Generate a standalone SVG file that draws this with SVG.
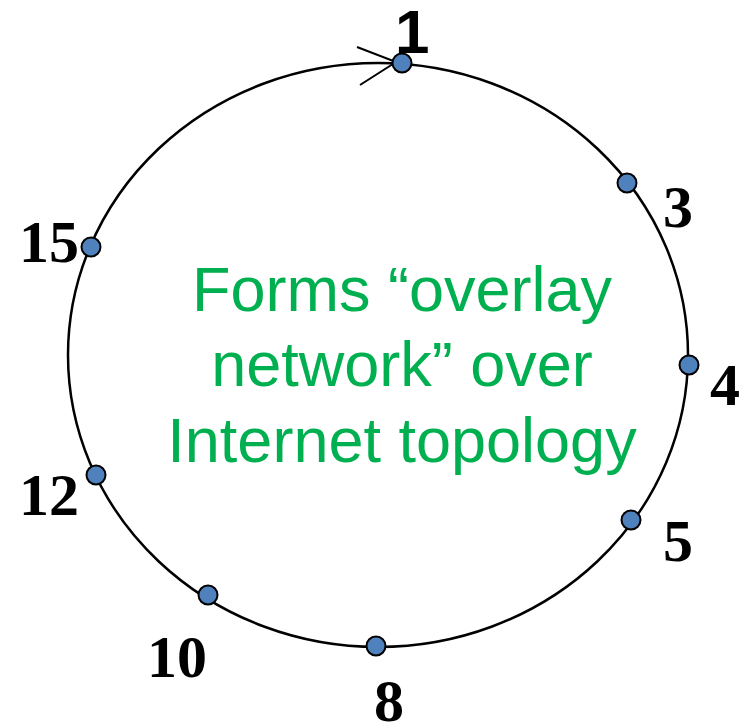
<svg xmlns="http://www.w3.org/2000/svg" width="750" height="726" viewBox="0 0 750 726">
<style>
.node{fill:#4F81BD;stroke:#000;stroke-width:2}
.lbl{font-family:"Liberation Serif",serif;font-weight:bold;font-size:60px;fill:#000}
.green{font-family:"Liberation Sans",sans-serif;font-size:63px;fill:#00B050;text-anchor:middle}
</style>
<rect width="750" height="726" fill="#fff"/>
<g id="connectors">
<ellipse cx="378" cy="355" rx="310" ry="292" fill="none" stroke="#000" stroke-width="2.5"/>
<polyline points="357,47 396,62 360,85" fill="none" stroke="#000" stroke-width="2"/>
</g>
<g id="n1"><circle class="node" cx="402" cy="63" r="9.5"/><text x="395" y="53" style="font-family:'Liberation Sans',sans-serif;font-weight:bold;font-size:62px">1</text></g>
<g id="n3"><circle class="node" cx="627" cy="183" r="9.5"/><text class="lbl" x="663" y="227">3</text></g>
<g id="n4"><circle class="node" cx="689" cy="365" r="9.5"/><text class="lbl" x="710" y="405">4</text></g>
<g id="n5"><circle class="node" cx="631" cy="520" r="9.5"/><text class="lbl" x="663" y="561">5</text></g>
<g id="n8"><circle class="node" cx="376" cy="646" r="9.5"/><text class="lbl" x="374" y="721">8</text></g>
<g id="n10"><circle class="node" cx="208" cy="595" r="9.5"/><text class="lbl" x="147" y="677">10</text></g>
<g id="n12"><circle class="node" cx="96" cy="475" r="9.5"/><text class="lbl" x="19" y="515">12</text></g>
<g id="n15"><circle class="node" cx="91" cy="247" r="9.5"/><text class="lbl" x="19" y="262">15</text></g>
<g id="caption">
<text class="green" x="402" y="311">Forms “overlay</text>
<text class="green" x="402" y="386">network” over</text>
<text class="green" x="402" y="462">Internet topology</text>
</g>
</svg>
